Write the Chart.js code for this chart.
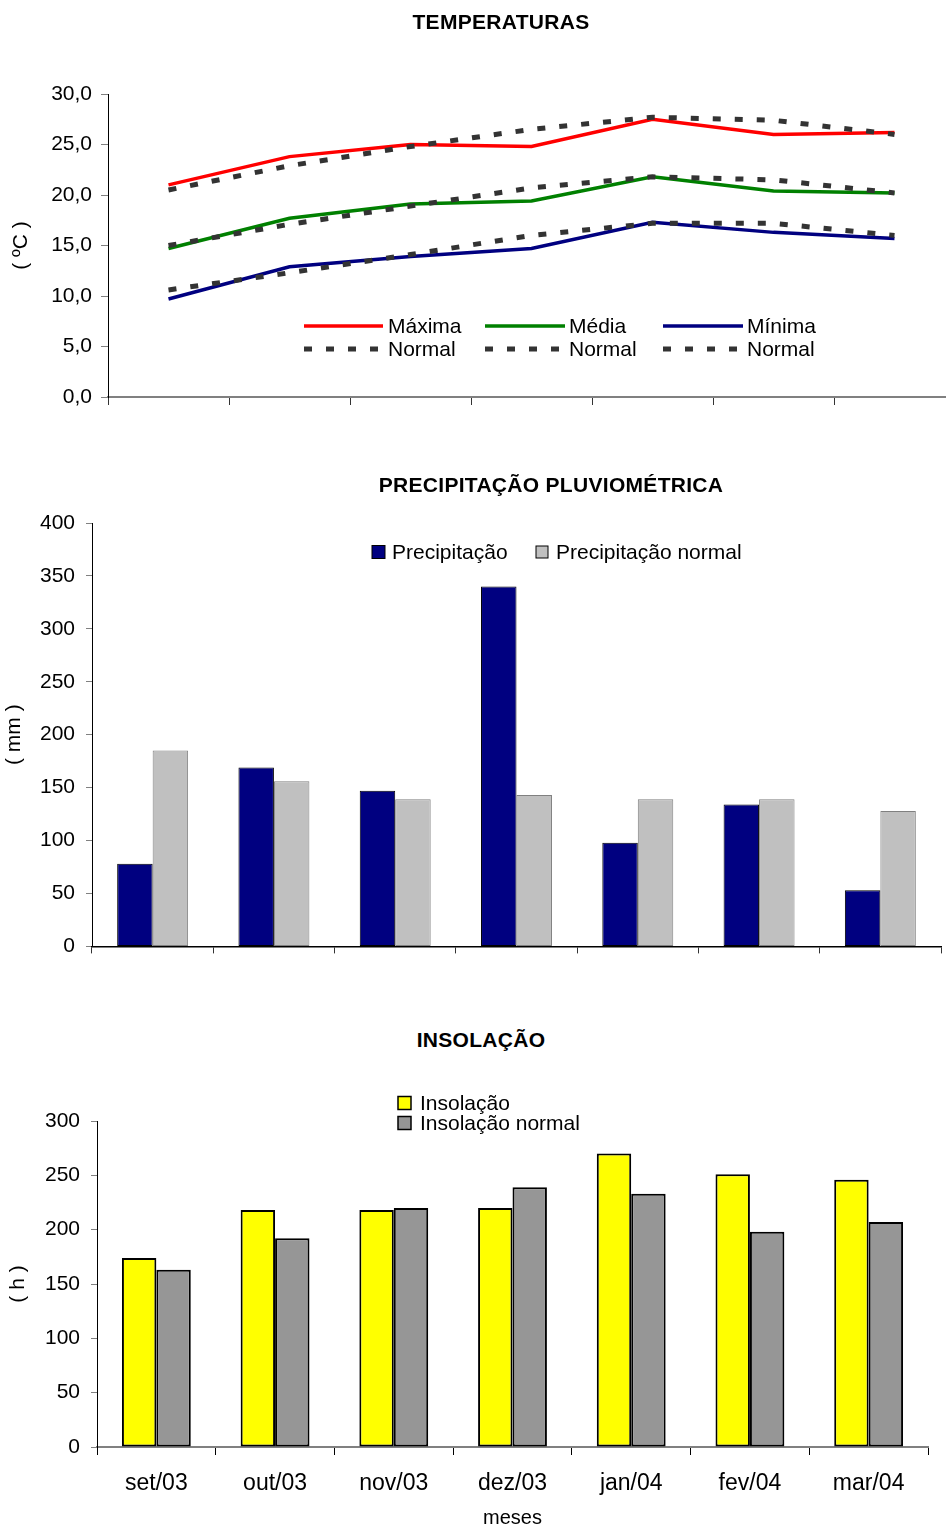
<!DOCTYPE html>
<html><head><meta charset="utf-8">
<script src="https://cdn.jsdelivr.net/npm/chart.js@4/dist/chart.umd.min.js"></script>
<style>
html,body{margin:0;padding:0;background:#fff;}
#wrap{position:relative;width:946px;height:1528px;overflow:hidden;background:#fff;}
canvas{position:absolute;left:0;}
.ttl{position:absolute;font:bold 21px "Liberation Sans",Arial,sans-serif;letter-spacing:0.3px;transform:translate(-50%,-50%);white-space:nowrap;color:#000;}
</style></head><body>
<div id="wrap">
<canvas id="c1" width="970" height="430" style="top:0"></canvas>
<canvas id="c2" width="946" height="500" style="top:470px"></canvas>
<canvas id="c3" width="946" height="468" style="top:1060px"></canvas>
<div class="ttl" style="left:501px;top:22px">TEMPERATURAS</div>
<div class="ttl" style="left:551px;top:485px">PRECIPITAÇÃO PLUVIOMÉTRICA</div>
<div class="ttl" style="left:481px;top:1040px">INSOLAÇÃO</div>
</div>
<script>
const months = ['set/03','out/03','nov/03','dez/03','jan/04','fev/04','mar/04'];
const tempMax       = [21.0, 23.8, 25.0, 24.8, 27.5, 26.0, 26.2];
const tempMaxNormal = [20.5, 22.9, 24.8, 26.5, 27.7, 27.4, 26.0];
const tempMed       = [14.7, 17.7, 19.1, 19.4, 21.8, 20.4, 20.2];
const tempMedNormal = [15.0, 17.1, 18.9, 20.7, 21.8, 21.5, 20.2];
const tempMin       = [9.7, 12.9, 13.9, 14.7, 17.3, 16.3, 15.7];
const tempMinNormal = [10.6, 12.3, 14.1, 16.0, 17.2, 17.2, 16.0];
const precip        = [78, 169, 147, 340, 98, 134, 53];
const precipNormal  = [185, 156, 139, 143, 139, 139, 128];
const insol         = [174, 218, 218, 220, 270, 251, 246];
const insolNormal   = [163, 192, 220, 239, 233, 198, 207];

Chart.defaults.font.family = '"Liberation Sans", Arial, sans-serif';
Chart.defaults.color = '#000';
const FONT = '21px "Liberation Sans", Arial, sans-serif';

const legendPlugin = {
  id: 'customLegend',
  afterDraw(chart, args, opts) {
    if (!opts || !opts.items) return;
    const ctx = chart.ctx;
    ctx.save();
    ctx.font = FONT;
    ctx.textBaseline = 'middle';
    ctx.textAlign = 'left';
    opts.items.forEach(it => {
      const ds = chart.data.datasets[it.dataset];
      if (it.type === 'line') {
        ctx.strokeStyle = ds.borderColor;
        ctx.lineWidth = ds.borderWidth;
        ctx.lineCap = 'butt';
        ctx.setLineDash(ds.borderDash || []);
        ctx.beginPath();
        ctx.moveTo(it.x1, it.y);
        ctx.lineTo(it.x2, it.y);
        ctx.stroke();
        ctx.setLineDash([]);
      } else {
        ctx.fillStyle = ds.backgroundColor;
        ctx.fillRect(it.x1, it.y - it.size / 2, it.size, it.size);
        ctx.strokeStyle = '#000';
        ctx.lineWidth = it.lw;
        ctx.strokeRect(it.x1, it.y - it.size / 2, it.size, it.size);
      }
      ctx.fillStyle = '#000';
      ctx.fillText(ds.label, it.tx, it.y + 1);
    });
    ctx.restore();
  }
};
Chart.register(legendPlugin);

function yScale(min, max, step, dec, title, titlePad, width, tickPad, tickLen) {
  return {
    min: min, max: max,
    ticks: { stepSize: step, padding: tickPad, font: { size: 21 }, color: '#000',
      callback: v => dec ? v.toFixed(1).replace('.', ',') : String(v) },
    grid: { drawOnChartArea: false, drawTicks: true, tickLength: tickLen, color: '#808080', lineWidth: 1 },
    border: { color: '#000', width: 1 },
    title: { display: true, text: title, font: { size: 21 }, color: '#000', padding: { top: titlePad, bottom: 0 } },
    afterFit: s => { s.width = width; }
  };
}

// Chart 1: temperatures
new Chart(document.getElementById('c1'), {
  type: 'line',
  data: {
    labels: months,
    datasets: [
      { label: 'Máxima', data: tempMax, borderColor: '#FF0000', borderWidth: 3.5, pointRadius: 0, tension: 0, order: 2 },
      { label: 'Normal', data: tempMaxNormal, borderColor: '#333333', borderWidth: 5, borderDash: [8, 14], pointRadius: 0, tension: 0, order: 1 },
      { label: 'Média', data: tempMed, borderColor: '#008000', borderWidth: 3.5, pointRadius: 0, tension: 0, order: 2 },
      { label: 'Normal', data: tempMedNormal, borderColor: '#333333', borderWidth: 5, borderDash: [8, 14], pointRadius: 0, tension: 0, order: 1 },
      { label: 'Mínima', data: tempMin, borderColor: '#000080', borderWidth: 3.5, pointRadius: 0, tension: 0, order: 2 },
      { label: 'Normal', data: tempMinNormal, borderColor: '#333333', borderWidth: 5, borderDash: [8, 14], pointRadius: 0, tension: 0, order: 1 }
    ]
  },
  options: {
    responsive: false, animation: false,
    layout: { padding: { top: 94, right: 15, left: 0, bottom: 0 } },
    plugins: {
      legend: { display: false }, tooltip: { enabled: false },
      customLegend: { items: [
        { dataset: 0, type: 'line', x1: 304, x2: 383, y: 326, tx: 388 },
        { dataset: 1, type: 'line', x1: 304, x2: 383, y: 349, tx: 388 },
        { dataset: 2, type: 'line', x1: 485, x2: 565, y: 326, tx: 569 },
        { dataset: 3, type: 'line', x1: 485, x2: 565, y: 349, tx: 569 },
        { dataset: 4, type: 'line', x1: 663, x2: 743, y: 326, tx: 747 },
        { dataset: 5, type: 'line', x1: 663, x2: 743, y: 349, tx: 747 }
      ] }
    },
    scales: {
      x: {
        offset: true,
        ticks: { display: false },
        grid: { offset: true, drawOnChartArea: false, drawTicks: true, tickLength: 8, color: '#333', lineWidth: 1 },
        border: { color: '#808080', width: 2 },
        afterFit: s => { s.height = 33; }
      },
      y: yScale(0, 30, 5, true, '( ºC )', 9, 108, 9, 7)
    }
  }
});

// Chart 2: precipitation
new Chart(document.getElementById('c2'), {
  type: 'bar',
  data: {
    labels: months,
    datasets: [
      { label: 'Precipitação', data: precip, backgroundColor: '#000080', borderColor: '#000000', borderWidth: 1, borderSkipped: false },
      { label: 'Precipitação normal', data: precipNormal, backgroundColor: '#C0C0C0', borderColor: '#808080', borderWidth: 1, borderSkipped: false }
    ]
  },
  options: {
    responsive: false, animation: false,
    layout: { padding: { top: 53, right: 5, left: 0, bottom: 0 } },
    datasets: { bar: { categoryPercentage: 0.585, barPercentage: 1.0 } },
    plugins: {
      legend: { display: false }, tooltip: { enabled: false },
      customLegend: { items: [
        { dataset: 0, type: 'box', x1: 372, y: 82, size: 13, lw: 1, tx: 392 },
        { dataset: 1, type: 'box', x1: 536, y: 82, size: 12, lw: 1, tx: 556 }
      ] }
    },
    scales: {
      x: {
        ticks: { display: false },
        grid: { offset: true, drawOnChartArea: false, drawTicks: true, tickLength: 7, color: '#333', lineWidth: 1 },
        border: { color: '#000', width: 1.5 },
        afterFit: s => { s.height = 23; }
      },
      y: yScale(0, 400, 50, false, '( mm )', 1.5, 92, 11, 6)
    }
  }
});

// Chart 3: insolation
new Chart(document.getElementById('c3'), {
  type: 'bar',
  data: {
    labels: months,
    datasets: [
      { label: 'Insolação', data: insol, backgroundColor: '#FFFF00', borderColor: '#000000', borderWidth: 2, borderSkipped: false },
      { label: 'Insolação normal', data: insolNormal, backgroundColor: '#969696', borderColor: '#000000', borderWidth: 2, borderSkipped: false }
    ]
  },
  options: {
    responsive: false, animation: false,
    layout: { padding: { top: 61, right: 18, left: 0, bottom: 0 } },
    datasets: { bar: { categoryPercentage: 0.58, barPercentage: 1.0 } },
    plugins: {
      legend: { display: false }, tooltip: { enabled: false },
      customLegend: { items: [
        { dataset: 0, type: 'box', x1: 398, y: 43, size: 13, lw: 1.5, tx: 420 },
        { dataset: 1, type: 'box', x1: 398, y: 63, size: 13, lw: 1.5, tx: 420 }
      ] }
    },
    scales: {
      x: {
        ticks: { font: { size: 23 }, color: '#000', padding: 15 },
        grid: { offset: true, drawOnChartArea: false, drawTicks: true, tickLength: 8, color: '#000', lineWidth: 1 },
        border: { color: '#808080', width: 2 },
        title: { display: true, text: 'meses', font: { size: 20, lineHeight: 1 }, color: '#000', padding: { top: 0, bottom: 0 } },
        afterFit: s => { s.height = 81; }
      },
      y: yScale(0, 300, 50, false, '( h )', 5.5, 97, 11, 6)
    }
  }
});
</script>
</body></html>
